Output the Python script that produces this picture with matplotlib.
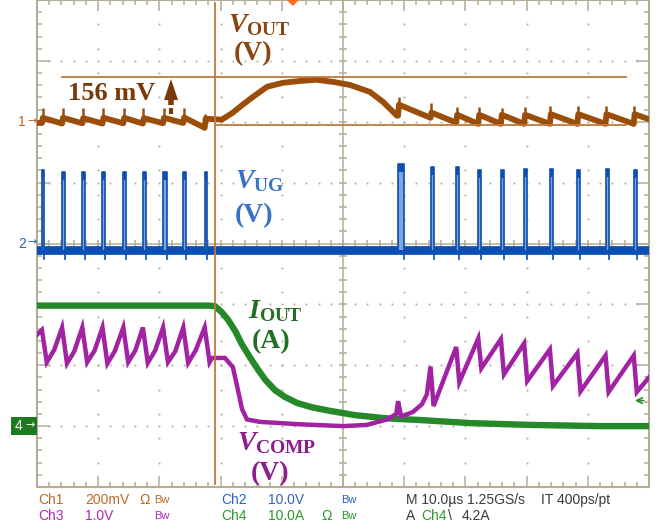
import matplotlib
matplotlib.use("Agg")
import matplotlib.pyplot as plt
from matplotlib.collections import LineCollection
from matplotlib.patches import Polygon, Rectangle

plt.rcParams['mathtext.fontset'] = 'custom'
plt.rcParams['mathtext.rm'] = 'Liberation Serif:bold'
plt.rcParams['mathtext.it'] = 'Liberation Serif:italic:bold'
plt.rcParams['mathtext.bf'] = 'Liberation Serif:bold'

W, H = 668, 531
GX0, GX1, GY0, GY1 = 37, 649, 0, 487   # graticule corners in pixels

# scope setup: position (div from centre) and units per div
ch1_pos, ch1_scale = 2.0, 200.0    # Vout, mV
ch2_pos, ch2_scale = 0.0, 10.0     # Vug, V
ch3_pos, ch3_scale = -3.0, 1.0     # Vcomp, V
ch4_pos, ch4_scale = -3.0, 10.0    # Iout, A
t_cursor = 29.1        # us
t_trig = 41.8          # us, trigger position marker
trig_level = 4.2       # A
vout_cursors = [-10, 146]   # mV -> 156 mV

# switching instants (us)
sw_pre = [0.8, 4.1, 7.4, 10.7, 14.1, 17.3, 20.6, 23.9, 27.4]
sw_post = [59.0, 64.3, 68.5, 72.1, 75.8, 79.6, 83.8, 88.3, 92.9, 97.5]

# Vout (mV): level before each jump, spike tip, level just after
vout_pre_bot = [-4, -6, -5, -6, -5, -6, -5, -4, -20]
vout_pre_spike = [44, 46, 45, 46, 45, 46, 44, 45, 26]
vout_pre_top = [13, 13, 12, 13, 13, 12, 13, 14, 10]
vout_rec_t = [30.2, 32.0, 33.6, 35.3, 37.6, 40.2, 43.0, 45.6, 48.4, 51.1, 54.4, 56.5, 58.8]
vout_rec_mv = [7, 30, 56, 82, 115, 128, 134, 138, 131, 121, 98, 66, 20]
vout_post_bot = [20, 13, -3, -7, -7, -7, -7, -7, -7, -7]
vout_post_spike = [82, 62, 50, 50, 44, 50, 52, 52, 52, 52]
vout_post_top = [56, 30, 23, 23, 23, 23, 25, 25, 25, 25]
vout_end = 8

# Vug (V)
ug_base = -1.0
ug_dip = -2.6
ug_pre_top = [12.0, 11.7, 11.8, 11.7, 11.8, 11.7, 11.8, 11.7, 11.8]
ug_pre_w = [0.3, 0.5, 0.5, 0.4, 0.5, 0.5, 0.6, 0.5, 0.4]
ug_post_top = [13.0, 12.5, 12.5, 12.1, 12.1, 12.3, 12.2, 12.1, 12.2, 12.1]
ug_post_w = [0.9, 0.6, 0.5, 0.5, 0.5, 0.5, 0.5, 0.5, 0.5, 0.5]

# Iout (A)
iout_t = [0, 28.0, 29.1, 30.2, 31.2, 32.4, 33.5, 34.8, 36.1, 37.4, 38.9, 40.5, 42.5,
          44.9, 47.9, 52.0, 56.9, 62.6, 70.8, 80.6, 92.0, 100]
iout_a = [19.8, 19.8, 19.7, 18.7, 17.5, 15.6, 13.4, 11.3, 9.3, 7.5, 5.9, 4.8, 3.8,
          3.1, 2.5, 1.8, 1.3, 1.0, 0.5, 0.2, 0.0, 0.0]

# Vcomp (V)
vc_start = 1.50
vc_pre_peak = [1.58, 1.62, 1.62, 1.62, 1.62, 1.62, 1.62, 1.62, 1.62]
vc_pre_low = [1.05, 1.03, 1.05, 1.03, 1.05, 1.04, 1.05, 1.04, 1.05]
vc_pre_mid = [1.25, 1.23, 1.24, 1.23, 1.25, 1.24, 1.23, 1.24]
vc_fall_t = [28.6, 30.7, 32.0, 32.8, 33.5, 34.3, 36.4, 43.0, 50.0, 53.9, 57.2, 58.7]
vc_fall_v = [1.12, 1.12, 0.97, 0.61, 0.28, 0.11, 0.07, 0.03, 0.0, 0.02, 0.11, 0.20]
vc_post_peak = [0.41, 0.98, 1.30, 1.44, 1.43, 1.36, 1.26, 1.20, 1.16, 1.16]
vc_post_low = [0.16, 0.33, 0.72, 0.95, 0.85, 0.74, 0.66, 0.57, 0.56, 0.56]
vc_gap_t = [61.4, 62.9, 63.7]
vc_gap_v = [0.23, 0.36, 0.52]
vc_end = 0.80

c_vout = '#9B4D0A'
c_ug = '#0C4EB2'
c_ug_fill = '#7EA6DE'
c_iout = '#25892A'
c_vc = '#A222A4'
c_cur = '#BE7A3E'
gc = '#B4AD95'

px_t = 100.0 / (GX1 - GX0)
px_d = 8.0 / (GY1 - GY0)

def fx(x):
    return x / W

def fy(y):
    return 1 - y / H

fig = plt.figure(figsize=(W / 100, H / 100), dpi=100)
ax = fig.add_axes([GX0 / W, 1 - GY1 / H, (GX1 - GX0) / W, (GY1 - GY0) / H])
ax.set_xlim(0, 100)
ax.set_ylim(-4, 4)
ax.axis('off')

# ---- graticule ----
segs = []
for k in range(51):
    t = 2 * k
    L = (11 if k % 5 == 0 else 5) * px_d
    segs.append([(t, 4), (t, 4 - L)])
    segs.append([(t, -4), (t, -4 + L)])
    segs.append([(t, -4 * px_d), (t, 4 * px_d)])
for k in range(41):
    y = -4 + 0.2 * k
    L = (13 if k % 5 == 0 else 5) * px_t
    segs.append([(0, y), (L, y)])
    segs.append([(100 - L, y), (100, y)])
    segs.append([(50 - 4 * px_t, y), (50 + 4 * px_t, y)])
segs.append([(50, -4), (50, 4)])
segs.append([(0, 0), (100, 0)])
ax.add_collection(LineCollection(segs, colors=gc, linewidths=1.1, zorder=1))
ax.plot([0, 100, 100, 0, 0], [-4, -4, 4, 4, -4], color=gc, lw=1.5, clip_on=False, zorder=1)
dx, dyy = [], []
for xi in [10, 20, 30, 40, 60, 70, 80, 90]:
    for k in range(1, 20):
        dx.append(xi)
        dyy.append(-4 + 0.4 * k)
for yi in [-3, -2, -1, 1, 2, 3]:
    for k in range(1, 50):
        dx.append(2 * k)
        dyy.append(yi)
ax.plot(dx, dyy, ls='none', marker='s', ms=1.3, mec='none', mfc=gc, zorder=1)

# ---- Ch4: Iout ----
ax.plot(iout_t, [ch4_pos + a / ch4_scale for a in iout_a], color=c_iout, lw=4.6,
        solid_joinstyle='round', zorder=3)

# ---- Ch3: Vcomp ----
vt, vv = [0.0], [vc_start]
for i, ts in enumerate(sw_pre):
    vt += [ts, ts + 0.8]
    vv += [vc_pre_peak[i], vc_pre_low[i]]
    if i < len(vc_pre_mid):
        vt.append(ts + 2.0)
        vv.append(vc_pre_mid[i])
vt += vc_fall_t
vv += vc_fall_v
for j, ts in enumerate(sw_post):
    vt += [ts, ts + 0.5]
    vv += [vc_post_peak[j], vc_post_low[j]]
    if j == 0:
        vt += vc_gap_t
        vv += vc_gap_v
vt.append(100)
vv.append(vc_end)
ax.plot(vt, [ch3_pos + v / ch3_scale for v in vv], color=c_vc, lw=3.2,
        solid_joinstyle='miter', zorder=4)

# ---- Ch2: Vug ----
b = ch2_pos + ug_base / ch2_scale
for ts_list, tops, ws in [(sw_pre, ug_pre_top, ug_pre_w), (sw_post, ug_post_top, ug_post_w)]:
    for ts, top, w in zip(ts_list, tops, ws):
        ax.plot([ts + w, ts + w], [b, ch2_pos + ug_dip / ch2_scale], color=c_ug, lw=1.2, zorder=2)
ax.plot([0, 100], [b, b], color=c_ug, lw=6.3, zorder=3)
for ts_list, tops, ws in [(sw_pre, ug_pre_top, ug_pre_w), (sw_post, ug_post_top, ug_post_w)]:
    for ts, top, w in zip(ts_list, tops, ws):
        ytop = ch2_pos + top / ch2_scale
        ax.add_patch(Rectangle((ts, b), w, ytop - b, facecolor=c_ug_fill, edgecolor='none', zorder=3))
        ax.add_patch(Rectangle((ts, ytop - 0.13), w, 0.13, facecolor=c_ug, edgecolor='none', zorder=3))
        ax.plot([ts, ts, ts + w, ts + w], [b, ytop, ytop, b], color=c_ug, lw=1.2, zorder=3)

# ---- Ch1: Vout ----
ot, ov = [0.0], [vout_pre_bot[0]]
spk = []
for i, ts in enumerate(sw_pre):
    ot += [ts, ts + 0.15]
    ov += [vout_pre_bot[i], vout_pre_top[i]]
    spk.append([(ts + 0.1, ch1_pos + vout_pre_top[i] / ch1_scale),
                (ts + 0.1, ch1_pos + vout_pre_spike[i] / ch1_scale)])
ot += vout_rec_t
ov += vout_rec_mv
for j, ts in enumerate(sw_post):
    ot += [ts, ts + 0.15]
    ov += [vout_post_bot[j], vout_post_top[j]]
    spk.append([(ts + 0.1, ch1_pos + vout_post_top[j] / ch1_scale),
                (ts + 0.1, ch1_pos + vout_post_spike[j] / ch1_scale)])
ot.append(100)
ov.append(vout_end)
ax.plot(ot, [ch1_pos + v / ch1_scale for v in ov], color=c_vout, lw=4.2,
        solid_joinstyle='round', zorder=4)
ax.add_collection(LineCollection(spk, colors=c_vout, linewidths=1.8, zorder=4))

# ---- cursors ----
ax.plot([t_cursor, t_cursor], [4 - 3 * px_d, -4 + 3 * px_d], color=c_cur, lw=1.3, zorder=6)
yc_lo = ch1_pos + vout_cursors[0] / ch1_scale
yc_hi = ch1_pos + vout_cursors[1] / ch1_scale
ax.plot([(62 - GX0) * px_t, (626 - GX0) * px_t], [yc_hi, yc_hi], color=c_cur, lw=1.3, zorder=6)
ax.plot([t_cursor, (626 - GX0) * px_t], [yc_lo, yc_lo], color=c_cur, lw=1.3, zorder=6)

# 156 mV arrow
xa = (171 - GX0) * px_t
def ypx(p):
    return 4 - p * px_d
ax.add_patch(Polygon([(xa, ypx(79)), (xa - 7 * px_t, ypx(100)), (xa + 7 * px_t, ypx(100))],
                     closed=True, facecolor='#7A3A08', edgecolor='none', zorder=7))
ax.plot([xa, xa], [ypx(99), ypx(105)], color='#7A3A08', lw=4, zorder=7, solid_capstyle='butt')
ax.plot([xa, xa], [ypx(108), ypx(114)], color='#7A3A08', lw=3, zorder=7, solid_capstyle='butt')

# trigger level arrow for ch4
ytl = ch4_pos + trig_level / ch4_scale
ax.annotate('', xy=(99.2 - 12 * px_t, ytl), xytext=(99.6, ytl),
            arrowprops=dict(arrowstyle='->', color='#2A8A2A', lw=1.2), zorder=7)

# trigger position marker at top
xtp = GX0 + t_trig / px_t
tri = Polygon([(fx(xtp - 6), fy(0)), (fx(xtp + 6), fy(0)), (fx(xtp), fy(6))], closed=True,
              transform=fig.transFigure, facecolor='#FF6B1F', edgecolor='none', zorder=8)
fig.patches.append(tri)

# ---- channel markers on the left ----
mk = ['Liberation Sans', 'DejaVu Sans']
for label, pos, col in [('1', ch1_pos, '#B8652A'), ('2', ch2_pos, '#2E62C0')]:
    yp = GY0 + (4 - pos) / px_d
    fig.text(fx(18), fy(yp), label, color=col, fontsize=10, family=mk, va='center', ha='left')
    fig.text(fx(27), fy(yp - 1), '\u2192', color=col, fontsize=8, family=['DejaVu Sans'],
             va='center', ha='left')
yp4 = GY0 + (4 - ch4_pos) / px_d
fig.patches.append(Rectangle((fx(11), fy(yp4 + 9)), 26 / W, 18 / H, transform=fig.transFigure,
                             facecolor='#1E7A1E', edgecolor='none'))
fig.text(fx(15), fy(yp4), '4', color='white', fontsize=10, family=mk, va='center', ha='left')
fig.text(fx(25), fy(yp4 - 1), '\u2192', color='white', fontsize=8, family=['DejaVu Sans'],
         va='center', ha='left')

# ---- trace labels ----
serif = ['Liberation Serif', 'DejaVu Serif']
labs = [
    (r'$V_{\mathrm{OUT}}$', 228, 32, '(V)', 253, 60, '#8A4510'),
    (r'$V_{\mathrm{UG}}$', 235, 188, '(V)', 254, 222, '#3672C8'),
    (r'$I_{\mathrm{OUT}}$', 248, 318, '(A)', 271, 348, '#226E22'),
    (r'$V_{\mathrm{COMP}}$', 237, 450, '(V)', 270, 480, '#8E1C8E'),
]
for name, x1, y1, unit, x2, y2, col in labs:
    fig.text(fx(x1), fy(y1), name, color=col, fontsize=20, ha='left', va='baseline')
    fig.text(fx(x2), fy(y2), unit, color=col, fontsize=20, family=serif, weight='bold',
             ha='center', va='baseline')
fig.text(fx(68), fy(100), '156 mV', color='#7A3A08', fontsize=19, family=serif, weight='bold',
         ha='left', va='baseline')

# ---- status readout ----
nar = ['Liberation Sans Narrow', 'Liberation Sans', 'DejaVu Sans']
c1, c2, c3, c4, cg = '#B86B2A', '#2E62C0', '#B028B0', '#2A9A2A', '#3A3A3A'
r1, r2 = 500, 516
items = [
    ('Ch1', 38, r1, c1, 10), ('200mV', 85, r1, c1, 10), ('\u03a9', 139, r1, c1, 10),
    ('Bw', 154, r1, c1, 8),
    ('Ch2', 221, r1, c2, 10), ('10.0V', 268, r1, c2, 10), ('Bw', 341, r1, c2, 8),
    ('M 10.0\u00b5s 1.25GS/s', 406, r1, cg, 10), ('IT 400ps/pt', 541, r1, cg, 10),
    ('Ch3', 38, r2, c3, 10), ('1.0V', 85, r2, c3, 10), ('Bw', 154, r2, c3, 8),
    ('Ch4', 221, r2, c4, 10), ('10.0A', 268, r2, c4, 10), ('\u03a9', 321, r2, c4, 10),
    ('Bw', 341, r2, c4, 8),
    ('A', 406, r2, cg, 10), ('Ch4', 421, r2, c4, 10), ('\\', 448, r2, cg, 10),
    ('4.2A', 462, r2, cg, 10),
]
for s, x, y, col, fs in items:
    fig.text(fx(x), fy(y), s, color=col, fontsize=fs, family=nar, ha='left', va='center')

fig.savefig('out.png', dpi=100)
